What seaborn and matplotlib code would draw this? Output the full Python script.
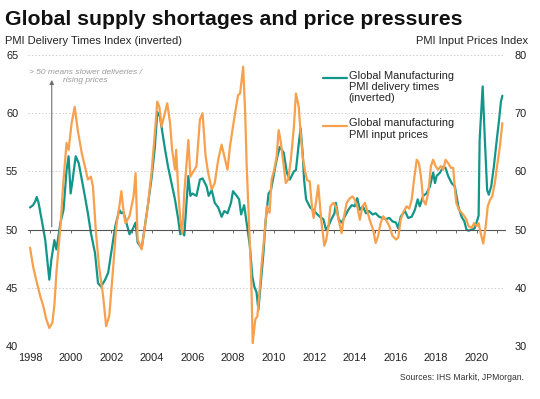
import matplotlib
matplotlib.use("Agg")
import pandas as pd
import seaborn as sns
from matplotlib import pyplot as plt

# Global Manufacturing PMI delivery times (inverted) - left axis
dlv_year = [1998.0, 1998.15, 1998.25, 1998.33, 1998.42, 1998.6, 1998.75, 1998.85, 1998.95, 1999.05,
            1999.2, 1999.3, 1999.5, 1999.65, 1999.8, 1999.9, 2000.0, 2000.1, 2000.25, 2000.4,
            2000.55, 2000.7, 2000.85, 2001.0, 2001.2, 2001.35, 2001.5, 2001.7, 2001.85, 2002.0,
            2002.2, 2002.4, 2002.5, 2002.6, 2002.7, 2002.9, 2003.05, 2003.2, 2003.3, 2003.5,
            2003.66, 2003.8, 2004.0, 2004.15, 2004.27, 2004.4, 2004.5, 2004.65, 2004.8, 2004.97,
            2005.14, 2005.3, 2005.4, 2005.5, 2005.6, 2005.8, 2005.9, 2006.0, 2006.2, 2006.37,
            2006.5, 2006.7, 2006.8, 2006.95, 2007.1, 2007.27, 2007.44, 2007.57, 2007.73, 2007.9,
            2008.0, 2008.18, 2008.3, 2008.4, 2008.55, 2008.67, 2008.83, 2008.95, 2009.05, 2009.16,
            2009.25, 2009.38, 2009.5, 2009.6, 2009.75, 2009.87, 2010.0, 2010.15, 2010.3, 2010.5,
            2010.65, 2010.8, 2011.0, 2011.1, 2011.24, 2011.33, 2011.43, 2011.5, 2011.6, 2011.8,
            2011.95, 2012.1, 2012.28, 2012.45, 2012.58, 2012.7, 2012.85, 2013.0, 2013.07, 2013.2,
            2013.35, 2013.5, 2013.68, 2013.85, 2014.0, 2014.12, 2014.25, 2014.4, 2014.55, 2014.7,
            2014.88, 2015.03, 2015.2, 2015.37, 2015.53, 2015.7, 2015.86, 2016.03, 2016.14, 2016.26,
            2016.47, 2016.63, 2016.8, 2016.96, 2017.1, 2017.2, 2017.37, 2017.53, 2017.7, 2017.86,
            2017.95, 2018.03, 2018.2, 2018.36, 2018.47, 2018.6, 2018.77, 2018.93, 2019.1, 2019.26,
            2019.4, 2019.5, 2019.6, 2019.75, 2019.9, 2020.05, 2020.1, 2020.15, 2020.3, 2020.4,
            2020.52, 2020.6, 2020.72, 2020.85, 2021.0, 2021.1, 2021.2, 2021.27]
dlv_value = [51.9, 52.1, 52.4, 52.8, 52.3, 50.6, 49.1, 47.4, 45.7, 47.4,
             49.1, 48.3, 50.6, 51.7, 55.1, 56.3, 53.1, 54.3, 56.3, 55.7,
             54.3, 52.9, 51.4, 49.7, 48.0, 45.4, 45.1, 45.7, 46.3, 48.0,
             50.3, 51.7, 51.4, 51.5, 50.9, 49.6, 50.0, 50.6, 48.9, 48.4,
             50.3, 52.0, 54.6, 57.1, 60.1, 59.7, 58.6, 56.9, 55.4, 54.0,
             52.6, 50.9, 49.6, 49.8, 49.5, 54.6, 52.9, 53.1, 52.9, 54.3,
             54.4, 53.7, 52.9, 53.4, 52.3, 51.9, 51.1, 51.6, 51.4, 52.3,
             53.3, 52.9, 52.6, 51.3, 52.1, 50.6, 48.6, 46.0, 45.1, 44.6,
             43.1, 45.7, 48.0, 50.6, 53.1, 53.4, 54.6, 56.0, 57.1, 56.6,
             54.9, 54.3, 55.0, 55.1, 57.4, 58.7, 56.6, 54.3, 52.6, 51.9,
             51.7, 51.4, 51.1, 50.9, 50.0, 50.3, 50.9, 51.4, 52.3, 50.9,
             50.6, 51.1, 51.7, 52.1, 52.0, 52.7, 51.7, 52.0, 51.4, 51.6,
             51.3, 51.4, 51.1, 51.0, 50.9, 51.0, 50.7, 50.6, 50.1, 51.1,
             51.6, 51.0, 51.1, 51.7, 52.6, 52.0, 52.9, 53.1, 53.7, 54.9,
             54.0, 54.6, 54.9, 55.4, 55.3, 54.6, 54.0, 53.7, 52.0, 51.1,
             50.7, 50.0, 49.9, 50.0, 50.1, 50.9, 51.2, 57.7, 62.3, 58.0,
             53.4, 53.0, 53.7, 55.4, 57.8, 59.3, 61.0, 61.5]

# Global manufacturing PMI input prices - right axis
inp_year = [1998.0, 1998.15, 1998.3, 1998.5, 1998.65, 1998.8, 1998.95, 1999.1, 1999.2, 1999.3,
            1999.5, 1999.65, 1999.8, 1999.9, 2000.05, 2000.2, 2000.35, 2000.55, 2000.7, 2000.85,
            2001.0, 2001.1, 2001.25, 2001.4, 2001.6, 2001.75, 2001.9, 2002.05, 2002.25, 2002.4,
            2002.5, 2002.6, 2002.7, 2002.9, 2003.1, 2003.2, 2003.3, 2003.5, 2003.66, 2003.8,
            2004.0, 2004.15, 2004.27, 2004.37, 2004.48, 2004.6, 2004.76, 2004.9, 2005.0, 2005.14,
            2005.2, 2005.3, 2005.4, 2005.5, 2005.6, 2005.8, 2005.9, 2006.0, 2006.2, 2006.37,
            2006.5, 2006.65, 2006.78, 2006.95, 2007.1, 2007.27, 2007.44, 2007.57, 2007.73, 2007.85,
            2008.0, 2008.1, 2008.25, 2008.35, 2008.5, 2008.6, 2008.67, 2008.8, 2008.9, 2008.97,
            2009.1, 2009.2, 2009.3, 2009.4, 2009.6, 2009.66, 2009.8, 2009.9, 2010.03, 2010.15,
            2010.25, 2010.36, 2010.5, 2010.6, 2010.72, 2010.85, 2011.0, 2011.1, 2011.24, 2011.33,
            2011.43, 2011.55, 2011.65, 2011.78, 2011.9, 2011.97, 2012.1, 2012.2, 2012.35, 2012.5,
            2012.58, 2012.7, 2012.8, 2012.94, 2013.07, 2013.2, 2013.35, 2013.47, 2013.6, 2013.76,
            2013.89, 2014.0, 2014.12, 2014.25, 2014.38, 2014.5, 2014.6, 2014.73, 2014.9, 2015.03,
            2015.15, 2015.27, 2015.4, 2015.53, 2015.7, 2015.86, 2016.03, 2016.14, 2016.26, 2016.38,
            2016.55, 2016.68, 2016.8, 2016.92, 2017.05, 2017.16, 2017.26, 2017.37, 2017.49, 2017.62,
            2017.75, 2017.86, 2017.98, 2018.1, 2018.24, 2018.36, 2018.47, 2018.6, 2018.74, 2018.85,
            2018.93, 2019.0, 2019.13, 2019.26, 2019.4, 2019.5, 2019.6, 2019.75, 2019.88, 2020.0,
            2020.1, 2020.2, 2020.33, 2020.45, 2020.55, 2020.66, 2020.77, 2020.9, 2021.03, 2021.15,
            2021.27]
inp_value = [46.9, 43.7, 41.4, 38.6, 36.9, 34.6, 33.1, 34.0, 37.0, 42.6,
             50.6, 58.6, 64.9, 63.7, 68.3, 71.1, 67.1, 63.1, 60.9, 58.6,
             59.1, 57.4, 49.4, 43.7, 38.6, 33.4, 35.1, 41.4, 50.6, 54.0,
             56.6, 53.4, 51.1, 52.3, 55.7, 59.7, 48.3, 46.6, 50.6, 54.0,
             60.3, 66.6, 72.0, 71.1, 67.7, 69.4, 71.7, 68.3, 63.7, 60.3,
             63.7, 56.9, 51.7, 49.4, 56.3, 65.4, 59.1, 59.7, 60.9, 68.9,
             70.0, 62.6, 59.7, 56.9, 58.0, 62.0, 64.6, 62.6, 60.3, 64.3,
             67.7, 70.0, 73.1, 73.4, 78.0, 70.0, 61.4, 50.0, 41.4, 30.5,
             34.6, 35.1, 39.1, 43.7, 51.1, 54.0, 52.9, 58.6, 60.3, 62.6,
             67.1, 64.9, 60.9, 58.0, 58.6, 62.0, 67.7, 73.4, 71.1, 66.6,
             62.6, 60.0, 58.5, 58.3, 53.5, 52.0, 55.0, 57.6, 51.5, 47.2,
             48.0, 50.6, 54.0, 54.6, 54.0, 51.7, 49.4, 52.3, 54.6, 55.4,
             55.7, 55.1, 54.0, 51.7, 54.0, 54.6, 53.4, 51.7, 50.0, 47.7,
             48.9, 51.1, 52.3, 51.7, 50.6, 48.9, 48.3, 48.6, 51.7, 52.9,
             54.0, 53.6, 55.1, 58.6, 62.0, 61.4, 59.1, 55.1, 54.3, 56.3,
             60.9, 62.0, 60.9, 60.3, 60.9, 60.3, 62.0, 61.4, 60.6, 60.6,
             56.9, 54.6, 53.4, 52.9, 52.3, 51.7, 50.6, 50.3, 51.1, 50.6,
             51.1, 49.4, 47.6, 50.6, 54.0, 55.1, 55.7, 58.0, 61.4, 64.3,
             68.3]

left_ticks = [40, 45, 50, 55, 60, 65]
right_ticks = [30, 40, 50, 60, 70, 80]
tick_years = list(range(1998, 2022))
label_years = list(range(1998, 2021, 2))

teal = '#13968a'
orange = '#f7a04d'

sns.set_style('white')
plt.rcParams['font.family'] = ['Liberation Sans', 'DejaVu Sans']

dlv = pd.DataFrame({'year': dlv_year, 'value': dlv_value})
inp = pd.DataFrame({'year': inp_year, 'value': inp_value})

fig = plt.figure(figsize=(5.4, 3.99), dpi=100)
ax = fig.add_axes([28 / 540, 53 / 399, 477 / 540, 291 / 399])
ax2 = ax.twinx()

sns.lineplot(data=dlv, x='year', y='value', ax=ax, color=teal, lw=1.6)
sns.lineplot(data=inp, x='year', y='value', ax=ax2, color=orange, lw=1.6)

ax.set_xlim(1997.9, 2021.4)
ax.set_ylim(40, 65)
ax2.set_ylim(30, 80)

# dotted grid on the left scale, 50 drawn as the axis line
for v in left_ticks:
    if v != 50:
        ax.axhline(v, color='#cfcfcf', lw=0.7, ls=(0, (1.5, 2)), zorder=0)

ax.set_yticks(left_ticks)
ax2.set_yticks(right_ticks)
ax.tick_params(axis='y', length=0, pad=7, labelsize=7.9, labelcolor='#222222')
ax2.tick_params(axis='y', length=0, pad=7, labelsize=7.9, labelcolor='#222222')
ax.set_xlabel('')
ax.set_ylabel('')
ax2.set_ylabel('')

for s in ax.spines.values():
    s.set_visible(False)
for s in ax2.spines.values():
    s.set_visible(False)
ax.spines['bottom'].set_visible(True)
ax.spines['bottom'].set_position(('data', 50))
ax.spines['bottom'].set_color('#555555')
ax.spines['bottom'].set_linewidth(0.8)
ax.set_xticks(tick_years)
ax.tick_params(axis='x', length=2.5, width=0.6, color='#555555', direction='out',
               labelbottom=False, bottom=True)

sec = ax.secondary_xaxis('bottom')
sec.set_xticks(label_years)
sec.set_xticklabels([str(y) for y in label_years])
sec.tick_params(length=0, pad=5, labelsize=7.9, labelcolor='#222222')
for s in sec.spines.values():
    s.set_visible(False)

# note + arrow
ax.annotate('', xy=(1999.07, 63.1), xytext=(1999.07, 50),
            arrowprops=dict(arrowstyle='-|>', color='#6f6f6f', lw=0.8, mutation_scale=6))
ax.text(2000.75, 63.17, '> 50 means slower deliveries /\nrising prices', ha='center', va='center',
        fontsize=6, style='italic', color='#9a9a9a', linespacing=1.1)

# legend
ax.plot([0.618, 0.668], [0.92, 0.92], transform=ax.transAxes, color=teal, lw=1.6)
ax.text(0.672, 0.945, 'Global Manufacturing\nPMI delivery times\n(inverted)', transform=ax.transAxes,
        ha='left', va='top', fontsize=7.9, color='#222222', linespacing=1.15)
ax.plot([0.618, 0.668], [0.757, 0.757], transform=ax.transAxes, color=orange, lw=1.6)
ax.text(0.672, 0.782, 'Global manufacturing\nPMI input prices', transform=ax.transAxes,
        ha='left', va='top', fontsize=7.9, color='#222222', linespacing=1.15)

fig.text(5 / 540, 1 - 25 / 399, 'Global supply shortages and price pressures', ha='left',
         va='baseline', fontsize=15.3, fontweight='bold', color='#111111')
fig.text(5 / 540, 1 - 41.5 / 399, 'PMI Delivery Times Index (inverted)', ha='left', va='center',
         fontsize=8, color='#222222')
fig.text(528 / 540, 1 - 41.5 / 399, 'PMI Input Prices Index', ha='right', va='center',
         fontsize=8, color='#222222')
fig.text(524 / 540, 1 - 378 / 399, 'Sources: IHS Markit, JPMorgan.', ha='right', va='center',
         fontsize=6.2, color='#333333')

plt.savefig('out.png', dpi=100)
plt.close()
